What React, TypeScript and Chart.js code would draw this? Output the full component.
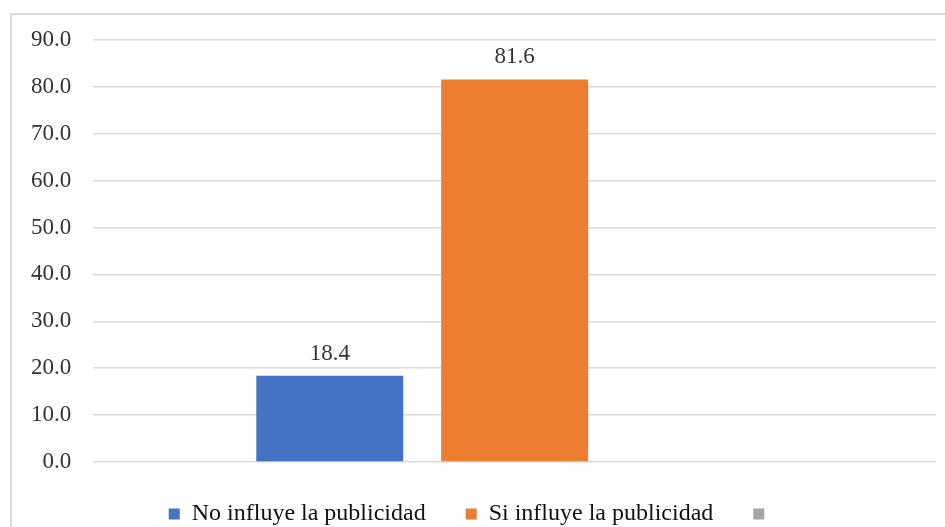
import React, { useEffect, useRef } from "react";
import { Chart, registerables } from "chart.js";

Chart.register(...registerables);

const categories = [""];
const seriesNames = ["No influye la publicidad", "Si influye la publicidad", ""];
const noInfluye = [18.4];
const siInfluye = [81.6];
const vacio: (number | null)[] = [null];
const yTicks = [0, 10, 20, 30, 40, 50, 60, 70, 80, 90];

const FONT = "'Liberation Serif', 'Times New Roman', serif";

const valueLabels = {
  id: "valueLabels",
  afterDatasetsDraw(chart: any) {
    const ctx = chart.ctx;
    ctx.save();
    ctx.font = `23px ${FONT}`;
    ctx.fillStyle = "#333333";
    ctx.textAlign = "center";
    ctx.textBaseline = "alphabetic";
    chart.data.datasets.forEach((ds: any, i: number) => {
      const meta = chart.getDatasetMeta(i);
      meta.data.forEach((el: any, j: number) => {
        const v = ds.data[j];
        if (v === null || v === undefined) return;
        ctx.fillText(Number(v).toFixed(1), el.x, el.y - 16);
      });
    });
    ctx.restore();
  },
};

export default function App() {
  const ref = useRef<HTMLCanvasElement | null>(null);
  useEffect(() => {
    if (!ref.current) return;
    const chart = new Chart(ref.current, {
      type: "bar",
      data: {
        labels: categories,
        datasets: [
          { label: seriesNames[0], data: noInfluye, backgroundColor: "#4472c4" },
          { label: seriesNames[1], data: siInfluye, backgroundColor: "#ed7d31" },
          { label: seriesNames[2], data: vacio, backgroundColor: "#a5a5a5" },
        ],
      },
      options: {
        responsive: false,
        animation: false,
        devicePixelRatio: 1,
        datasets: { bar: { categoryPercentage: 0.658, barPercentage: 0.795 } },
        layout: { padding: { left: 9, right: 9, top: 40, bottom: -9 } },
        plugins: {
          tooltip: { enabled: false },
          legend: {
            position: "bottom",
            labels: {
              boxWidth: 11,
              boxHeight: 11,
              padding: 40,
              color: "#111111",
              font: { family: FONT, size: 24 },
            },
          },
        },
        scales: {
          x: { display: false },
          y: {
            min: 0,
            max: 90,
            afterBuildTicks: (axis: any) => {
              axis.ticks = yTicks.map((v) => ({ value: v }));
            },
            border: { display: false },
            grid: { color: "#d9d9d9", lineWidth: 1.5, drawTicks: false },
            ticks: {
              padding: 22,
              color: "#333333",
              font: { family: FONT, size: 23 },
              callback: (v: any) => Number(v).toFixed(1),
            },
          },
        },
      },
      plugins: [valueLabels],
    });
    return () => chart.destroy();
  }, []);

  return (
    <div
      style={{
        position: "fixed",
        left: 0,
        top: 0,
        width: 945,
        height: 527,
        overflow: "hidden",
        background: "#fff",
      }}
    >
      <div
        style={{
          position: "absolute",
          left: 10,
          top: 13,
          right: -20,
          bottom: -20,
          border: "2px solid #d9d9d9",
        }}
      />
      <canvas
        ref={ref}
        width={945}
        height={527}
        style={{ position: "absolute", left: 0, top: 0, width: 945, height: 527 }}
      />
    </div>
  );
}
